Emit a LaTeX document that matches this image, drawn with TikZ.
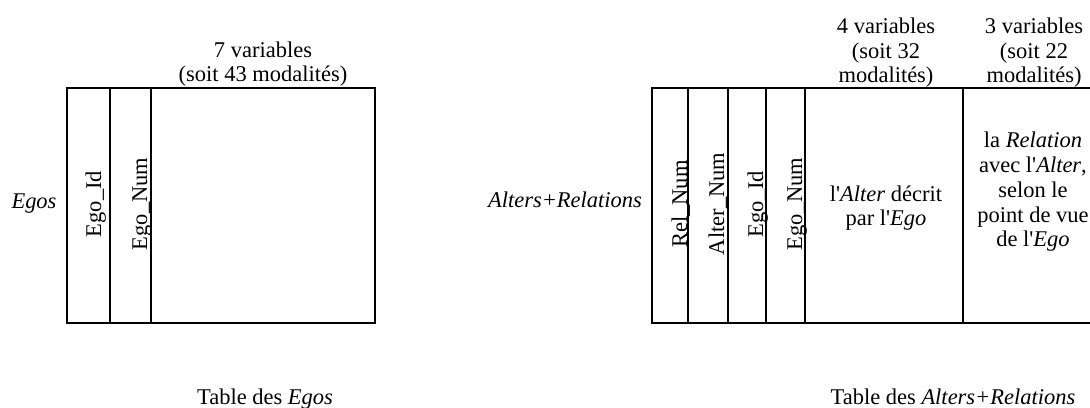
\documentclass[tikz,border=0pt]{standalone}
\usepackage{fontspec}
\setmainfont{Liberation Serif}
\usetikzlibrary{positioning}
\newcommand{\apos}{\textquotesingle}

\begin{document}
\begin{tikzpicture}[x=0.02cm, y=-0.02cm,
      every node/.style={inner sep=0pt, align=center, font=\fontsize{12.8}{14.2}\selectfont},
        colname/.style={rotate=90, anchor=base},
        tablebox/.style={draw, line width=0.7pt}
          ]
        \clip (0,0) rectangle (1090,408);

        % Table des Egos
        \draw [tablebox] (67,88) rectangle (375,323);
        \draw [tablebox] (110,88) -- (110,323);
        \draw [tablebox] (151,88) -- (151,323);

        \node (egos) [anchor=base] at (34,209) {\textit{Egos}};
        \node (egoid) [colname] at (101,204) {Ego\_Id};
        \node (egonum) [colname] at (147,204) {Ego\_Num};
        \node (egovars) [anchor=base] at (263,82) {7 variables\\(soit 43 modalités)};
        \node (egotitle) [anchor=base] at (265,405) {Table des \textit{Egos}};

        % Table des Alters+Relations
        \draw [tablebox] (652,88) rectangle (1102,323);
        \draw [tablebox] (688,88) -- (688,323);
        \draw [tablebox] (728,88) -- (728,323);
        \draw [tablebox] (766,88) -- (766,323);
        \draw [tablebox] (805,88) -- (805,323);
        \draw [tablebox] (963,88) -- (963,323);

        \node (alters) [anchor=base] at (565,208) {\textit{Alters+Relations}};
        \node (relnum) [colname] at (687,204) {Rel\_Num};
        \node (alternum) [colname] at (724,204) {Alter\_Num};
        \node (altegoid) [colname] at (763,204) {Ego\_Id};
        \node (altegonum) [colname] at (802,204) {Ego\_Num};

        % headers: base anchor sits on the last line
        \node (altervars) [anchor=base] at (886,83) {4 variables\\(soit 32\\modalités)};
        \node (relvars) [anchor=base] at (1034,83) {3 variables\\(soit 22\\modalités)};

        \node (alterdesc) [anchor=base] at (886,226) {l\apos\textit{Alter} décrit\\par l\apos\textit{Ego}};
        \node (reldesc) [anchor=base] at (1033,247) {la \textit{Relation}\\avec l\apos\textit{Alter},\\selon le\\point de vue\\de l\apos\textit{Ego}};

        \node (alttitle) [anchor=base] at (953,405) {Table des \textit{Alters+Relations}};

          \end{tikzpicture}
\end{document}
